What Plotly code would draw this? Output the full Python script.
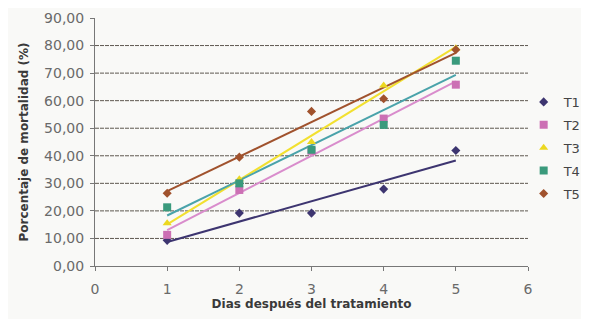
import numpy as np
import plotly.graph_objects as go

dias = [1, 2, 3, 4, 5]
series_names = ["T1", "T2", "T3", "T4", "T5"]
t1 = [9.3, 19.2, 19.2, 27.9, 41.9]
t2 = [11.3, 27.6, 41.8, 53.5, 65.8]
t3 = [15.5, 31.5, 45.0, 65.5, 79.0]
t4 = [21.3, 30.0, 42.2, 51.2, 74.5]
t5 = [26.4, 39.5, 56.1, 60.7, 78.5]
y_ticks = [0, 10, 20, 30, 40, 50, 60, 70, 80, 90]
x_ticks = [0, 1, 2, 3, 4, 5, 6]
grid_levels = [10, 20, 30, 40, 50, 60, 70, 80]

values = [t1, t2, t3, t4, t5]
marker_colors = ["#3d3570", "#cc70b4", "#ecd820", "#3a9a7c", "#a0522d"]
line_colors = ["#3d3570", "#d98ccc", "#f2e030", "#4aa3aa", "#a0522d"]
symbols = ["diamond", "square", "triangle-up", "square", "diamond"]
sizes = [7, 8, 8, 8, 7]

fig = go.Figure()
for name, vals, mc, lc, sym, sz in zip(series_names, values, marker_colors, line_colors, symbols, sizes):
    slope, icpt = np.polyfit(dias, vals, 1)
    xs = [dias[0], dias[-1]]
    fig.add_trace(go.Scatter(x=xs, y=[slope * x + icpt for x in xs], mode="lines",
                             line=dict(color=lc, width=2), showlegend=False, hoverinfo="skip"))
for name, vals, mc, lc, sym, sz in zip(series_names, values, marker_colors, line_colors, symbols, sizes):
    fig.add_trace(go.Scatter(x=dias, y=vals, mode="markers", name=name, legendgroup=name,
                             marker=dict(symbol=sym, size=sz, color=mc)))

for g in grid_levels:
    fig.add_shape(type="line", xref="x", yref="y", x0=0, x1=6, y0=g, y1=g,
                  line=dict(color="#5e5850", width=1, dash="4px,1px"), layer="below")

axis_font = dict(family="DejaVu Sans, sans-serif", size=14, color="#6a6a6a")
title_font = dict(family="DejaVu Sans, sans-serif", size=12, color="#3a3a3a")

# page body has an 8px margin: compensate so the plot area sits where the reference has it
fig.update_layout(
    width=589, height=319,
    margin=dict(l=87, r=69, t=10, b=61, autoexpand=False),
    paper_bgcolor="#f9f9f7", plot_bgcolor="#f9f9f7",
    separators=",.",
    showlegend=True,
    legend=dict(x=0.99, y=0.722, xanchor="left", yanchor="top",
                font=dict(family="DejaVu Sans, sans-serif", size=13, color="#444444"),
                tracegroupgap=3, itemwidth=30, bgcolor="rgba(0,0,0,0)"),
    xaxis=dict(range=[0, 6], tickvals=x_ticks, showgrid=False, zeroline=False, automargin=False,
               showline=True, linecolor="#777777", linewidth=1, ticks="outside", ticklen=4,
               tickcolor="#777777", tickfont=axis_font, ticklabelstandoff=6,
               title=dict(text="<b>Dias después del tratamiento</b>", font=title_font, standoff=3)),
    yaxis=dict(range=[0, 90], tickvals=y_ticks, tickformat=".2f", showgrid=False, zeroline=False,
               automargin=False,
               showline=True, linecolor="#777777", linewidth=1, ticks="outside", ticklen=4,
               tickcolor="#777777", tickfont=axis_font, ticklabelstandoff=3,
               title=dict(text="<b>Porcentaje de mortalidad (%)</b>", font=title_font, standoff=12)),
)

fig.write_html("out.html")
